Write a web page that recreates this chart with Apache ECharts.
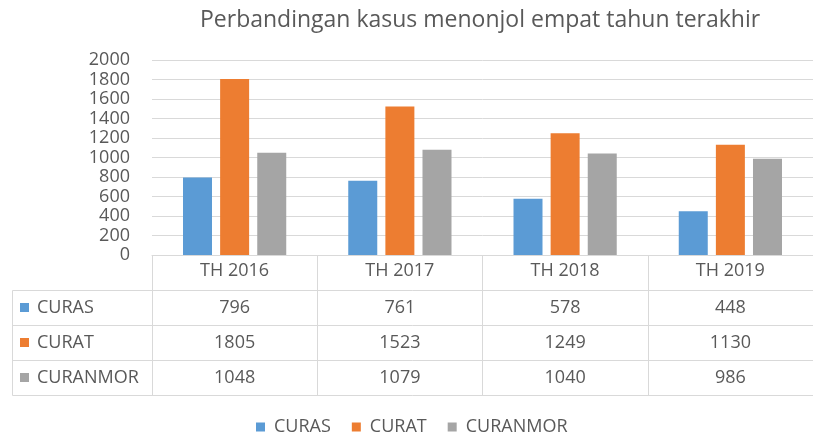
<!DOCTYPE html>
<html><head><meta charset="utf-8">
<script src="https://cdn.jsdelivr.net/npm/echarts@6/dist/echarts.min.js"></script>
<style>html,body{margin:0;padding:0;background:#fff}#c{width:813px;height:439px}</style>
</head><body><div id="c"></div>
<script>
const chartTitle = 'Perbandingan kasus menonjol empat tahun terakhir';
const categories = ['TH 2016', 'TH 2017', 'TH 2018', 'TH 2019'];
const seriesNames = ['CURAS', 'CURAT', 'CURANMOR'];
const curas = [796, 761, 578, 448];
const curat = [1805, 1523, 1249, 1130];
const curanmor = [1048, 1079, 1040, 986];
const yMin = 0, yMax = 2000, yStep = 200;

const colors = ['#5b9bd5', '#ed7d31', '#a5a5a5'];
const rows = [curas, curat, curanmor];
const FONT = '"Open Sans", "Noto Sans", sans-serif';
const TXT = '#595959';
const LINE = '#d9d9d9';

const chart = echarts.init(document.getElementById('c'), null, { renderer: 'canvas' });
const option = {
  backgroundColor: '#ffffff',
  animation: false,
  color: colors,
  textStyle: { fontFamily: FONT },
  title: {
    text: chartTitle, left: 200, top: 9, padding: 0,
    textStyle: { fontFamily: FONT, fontSize: 23, fontWeight: 'normal', color: TXT }
  },
  legend: {
    top: 413, left: 251,
    icon: 'rect', itemWidth: 9, itemHeight: 9, itemGap: 21,
    textStyle: { fontFamily: FONT, fontSize: 18, color: TXT, padding: [0, 0, 0, 4] },
    data: seriesNames
  },
  grid: { left: 152, top: 60, width: 674, height: 195, containLabel: false },
  xAxis: {
    type: 'category', data: categories, boundaryGap: true,
    axisLine: { show: true, lineStyle: { color: LINE, width: 1 } },
    axisTick: { show: true, length: 140, lineStyle: { color: LINE, width: 1 } },
    axisLabel: { fontFamily: FONT, fontSize: 18, color: TXT, margin: 7 },
    splitLine: { show: false }
  },
  yAxis: {
    type: 'value', min: yMin, max: yMax, interval: yStep,
    axisLine: { show: false }, axisTick: { show: false },
    axisLabel: { fontFamily: FONT, fontSize: 18, color: TXT, margin: 22, formatter: v => String(v) },
    splitLine: { lineStyle: { color: LINE, width: 1 } }
  },
  series: seriesNames.map((n, i) => ({
    name: n, type: 'bar', data: rows[i], barWidth: 29, barGap: '28%',
    itemStyle: { color: colors[i] }
  }))
};
chart.setOption(option);

// Data table under the plot, positioned from the library's own scales
const cx = categories.map(c => chart.convertToPixel({ xAxisIndex: 0 }, c));
const baseY = chart.convertToPixel({ yAxisIndex: 0 }, yMin);
const rowH = 35;
const tableLeft = 12.5;
const W = chart.getWidth();
const g = [];
const px = v => Math.round(v) + 0.5;
for (let r = 1; r <= rows.length + 1; r++) {
  const y = px(baseY + r * rowH);
  g.push({ type: 'line', shape: { x1: tableLeft, y1: y, x2: W, y2: y }, style: { stroke: LINE, lineWidth: 1 }, silent: true });
}
g.push({ type: 'line', shape: { x1: tableLeft, y1: px(baseY + rowH), x2: tableLeft, y2: px(baseY + (rows.length + 1) * rowH) }, style: { stroke: LINE, lineWidth: 1 }, silent: true });
rows.forEach((vals, r) => {
  const yc = baseY + (r + 1) * rowH + rowH / 2;
  g.push({ type: 'rect', shape: { x: 20, y: Math.round(yc - 4.5), width: 9, height: 9 }, style: { fill: colors[r] }, silent: true });
  g.push({ type: 'text', x: 37, y: yc, style: { text: seriesNames[r], font: '18px ' + FONT, fill: TXT, align: 'left', verticalAlign: 'middle' }, silent: true });
  vals.forEach((v, c) => {
    g.push({ type: 'text', x: cx[c], y: yc, style: { text: String(v), font: '18px ' + FONT, fill: TXT, align: 'center', verticalAlign: 'middle' }, silent: true });
  });
});
chart.setOption({ graphic: { elements: g } });
</script>
</body></html>
